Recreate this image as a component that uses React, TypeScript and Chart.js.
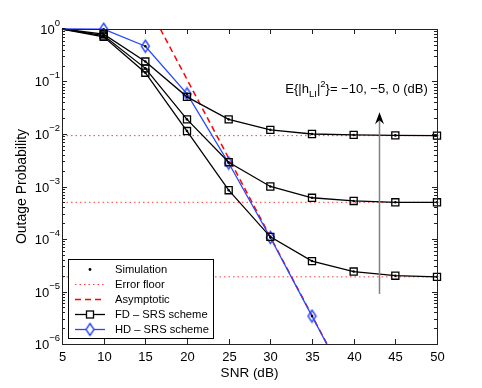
import React, { useEffect, useRef } from "react";
import { Chart, registerables } from "chart.js";
Chart.register(...registerables);

// ---- data ----
const snr = [5, 10, 15, 20, 25, 30, 35, 40, 45, 50];
const fd0dB = [1, 0.8, 0.24, 0.051, 0.019, 0.012, 0.01, 0.0096, 0.0094, 0.0093];
const fdm5dB = [1, 0.75, 0.178, 0.019, 0.0029, 0.001, 0.00061, 0.00053, 0.0005, 0.0005];
const fdm10dB = [1, 0.71, 0.147, 0.0114, 0.00085, 0.00011, 0.000038, 0.000024, 0.00002, 0.000019];
const hdSnr = [5, 10, 15, 20, 25, 30, 35, 40];
const hd = [1, 0.99, 0.47, 0.058, 0.0028, 0.000107, 0.0000034, 1.07e-7];
const simSnrFd = [10, 15, 20, 25, 30, 35, 40, 45, 50];
const simSnrHd = [10, 15, 20, 25, 30, 35];
const errorFloors = [0.0093, 0.0005, 0.000019];
const asymSnr = [16.8, 40];
const asymVals = [1, 1.1e-7];
const xTicks = [5, 10, 15, 20, 25, 30, 35, 40, 45, 50];
const yTickExps = [0, -1, -2, -3, -4, -5, -6];
const arrowX = 43;
const arrowFrom = 9e-6;
const arrowTo = 0.026;
const annoX = 31.8;
const annoY = 0.06;

const FONT = '"Liberation Sans", Arial, Helvetica, sans-serif';
const BLUE = "rgb(40,70,255)";
const FLOOR = "rgba(255,40,40,0.9)";

const sup = (s: string) => s.replace(/-/g, "\u2212");

function makeDiamond(): HTMLCanvasElement {
  const c = document.createElement("canvas");
  c.width = 11;
  c.height = 15;
  const g = c.getContext("2d")!;
  g.strokeStyle = BLUE;
  g.lineWidth = 1.4;
  g.beginPath();
  g.moveTo(5.5, 1.5);
  g.lineTo(9.5, 7.5);
  g.lineTo(5.5, 13.5);
  g.lineTo(1.5, 7.5);
  g.closePath();
  g.stroke();
  return c;
}

const pts = (xs: number[], ys: number[]) => xs.map((x, i) => ({ x, y: ys[i] }));
const pick = (xs: number[], ys: number[], keep: number[]) =>
  xs.map((x, i) => ({ x, y: ys[i] })).filter((p) => keep.includes(p.x));

export default function App() {
  const ref = useRef<HTMLCanvasElement>(null);
  useEffect(() => {
    document.body.style.margin = "0";
    const canvas = ref.current!;
    const diamond = makeDiamond();

    const decorPlugin = {
      id: "decor",
      afterDraw(chart: any) {
        const ctx = chart.ctx as CanvasRenderingContext2D;
        const xs = chart.scales.x;
        const ys = chart.scales.y;
        const { left, right, top, bottom } = chart.chartArea;
        ctx.save();
        // box
        ctx.strokeStyle = "#222";
        ctx.lineWidth = 1;
        ctx.strokeRect(Math.round(left) + 0.5, Math.round(top) + 0.5, Math.round(right - left), Math.round(bottom - top));
        // x ticks
        ctx.fillStyle = "#000";
        ctx.font = `13px ${FONT}`;
        ctx.textAlign = "center";
        ctx.textBaseline = "middle";
        for (const v of xTicks) {
          const px = Math.round(xs.getPixelForValue(v)) + 0.5;
          ctx.beginPath();
          ctx.moveTo(px, bottom);
          ctx.lineTo(px, bottom - 5);
          ctx.moveTo(px, top);
          ctx.lineTo(px, top + 5);
          ctx.stroke();
          ctx.fillText(String(v), px, bottom + 13);
        }
        // y ticks
        for (const e of yTickExps) {
          const py = Math.round(ys.getPixelForValue(Math.pow(10, e))) + 0.5;
          ctx.beginPath();
          ctx.moveTo(left, py);
          ctx.lineTo(left + 5, py);
          ctx.moveTo(right, py);
          ctx.lineTo(right - 5, py);
          ctx.stroke();
          if (e > yTickExps[yTickExps.length - 1]) {
            for (let k = 2; k <= 9; k++) {
              const pm = Math.round(ys.getPixelForValue(k * Math.pow(10, e - 1))) + 0.5;
              ctx.beginPath();
              ctx.moveTo(left, pm);
              ctx.lineTo(left + 3, pm);
              ctx.moveTo(right, pm);
              ctx.lineTo(right - 3, pm);
              ctx.stroke();
            }
          }
          const s = sup(String(e));
          ctx.font = `9.5px ${FONT}`;
          const sw = ctx.measureText(s).width;
          ctx.textAlign = "left";
          ctx.textBaseline = "middle";
          const supX = left - 2 - sw;
          ctx.fillText(s, supX, py - 6);
          ctx.font = `13px ${FONT}`;
          ctx.textAlign = "right";
          ctx.fillText("10", supX, py + 1);
        }
        // axis titles
        ctx.font = `13.5px ${FONT}`;
        ctx.textAlign = "center";
        ctx.textBaseline = "middle";
        ctx.fillText("SNR (dB)", (left + right) / 2, bottom + 29);
        ctx.save();
        ctx.font = `14px ${FONT}`;
        ctx.translate(22, (top + bottom) / 2);
        ctx.rotate(-Math.PI / 2);
        ctx.fillText("Outage Probability", 0, 0);
        ctx.restore();

        // arrow
        const ax = Math.round(xs.getPixelForValue(arrowX)) + 0.5;
        const ay0 = ys.getPixelForValue(arrowFrom);
        const ay1 = ys.getPixelForValue(arrowTo);
        ctx.strokeStyle = "#808080";
        ctx.lineWidth = 1.5;
        ctx.beginPath();
        ctx.moveTo(ax, ay0);
        ctx.lineTo(ax, ay1 + 6);
        ctx.stroke();
        ctx.fillStyle = "#000";
        ctx.beginPath();
        ctx.moveTo(ax, ay1);
        ctx.lineTo(ax + 4.5, ay1 + 12);
        ctx.lineTo(ax, ay1 + 8);
        ctx.lineTo(ax - 4.5, ay1 + 12);
        ctx.closePath();
        ctx.fill();

        // annotation text
        let tx = xs.getPixelForValue(annoX);
        const ty = ys.getPixelForValue(annoY);
        ctx.textAlign = "left";
        ctx.textBaseline = "alphabetic";
        const seg = (t: string, size: number, dy: number) => {
          ctx.font = `${size}px ${FONT}`;
          ctx.fillText(t, tx, ty + dy);
          tx += ctx.measureText(t).width;
        };
        seg("E{|h", 13, 0);
        seg("LI", 9.5, 4);
        seg("|", 13, 0);
        seg("2", 9.5, -6);
        seg("}= \u221210, \u22125, 0 (dB)", 13, 0);

        // legend
        const lx = left + 6;
        const lw = 145;
        const lh = 79;
        const lyb = bottom - 6;
        const ly = lyb - lh;
        ctx.fillStyle = "#fff";
        ctx.fillRect(lx, ly, lw, lh);
        ctx.strokeStyle = "#000";
        ctx.lineWidth = 1;
        ctx.strokeRect(Math.round(lx) + 0.5, Math.round(ly) + 0.5, lw, lh);
        const items = ["Simulation", "Error floor", "Asymptotic", "FD \u2013 SRS scheme", "HD \u2013 SRS scheme"];
        const sx0 = lx + 7;
        const sx1 = lx + 37;
        const sxm = (sx0 + sx1) / 2;
        items.forEach((label, i) => {
          const cy = Math.round(ly + 10 + 15 * i) + 0.5;
          ctx.setLineDash([]);
          if (i === 0) {
            ctx.fillStyle = "#000";
            ctx.beginPath();
            ctx.arc(sxm, cy, 1.4, 0, Math.PI * 2);
            ctx.fill();
          } else if (i === 1) {
            ctx.strokeStyle = FLOOR;
            ctx.lineWidth = 1;
            ctx.setLineDash([1.5, 3]);
            ctx.beginPath();
            ctx.moveTo(sx0, cy);
            ctx.lineTo(sx1, cy);
            ctx.stroke();
          } else if (i === 2) {
            ctx.strokeStyle = "#ff0000";
            ctx.lineWidth = 1.5;
            ctx.setLineDash([6, 4]);
            ctx.beginPath();
            ctx.moveTo(sx0, cy);
            ctx.lineTo(sx1, cy);
            ctx.stroke();
          } else if (i === 3) {
            ctx.strokeStyle = "#000";
            ctx.lineWidth = 1.3;
            ctx.beginPath();
            ctx.moveTo(sx0, cy);
            ctx.lineTo(sx1, cy);
            ctx.stroke();
            ctx.fillStyle = "#fff";
            ctx.fillRect(sxm - 3.5, cy - 3.5, 7, 7);
            ctx.strokeRect(sxm - 3.5, cy - 3.5, 7, 7);
          } else {
            ctx.strokeStyle = BLUE;
            ctx.lineWidth = 1.3;
            ctx.beginPath();
            ctx.moveTo(sx0, cy);
            ctx.lineTo(sx1, cy);
            ctx.stroke();
            ctx.fillStyle = "#fff";
            ctx.beginPath();
            ctx.moveTo(sxm, cy - 6);
            ctx.lineTo(sxm + 4, cy);
            ctx.lineTo(sxm, cy + 6);
            ctx.lineTo(sxm - 4, cy);
            ctx.closePath();
            ctx.fill();
            ctx.drawImage(diamond, sxm - 5.5, cy - 7.5);
          }
          ctx.setLineDash([]);
          ctx.fillStyle = "#000";
          ctx.font = `11.2px ${FONT}`;
          ctx.textAlign = "left";
          ctx.textBaseline = "middle";
          ctx.fillText(label, lx + 47, cy + 0.5);
        });
        ctx.restore();
      },
    };

    const radiusFd = snr.map((x) => (x === 5 ? 0 : 5));
    const radiusHd = hdSnr.map((x) => (simSnrHd.includes(x) ? 7 : 0));
    const clipBox = { left: 10, top: 10, right: 10, bottom: 0 };
    const fdSet = (data: number[]) => ({
      type: "line" as const,
      data: pts(snr, data),
      borderColor: "#000",
      borderWidth: 1.3,
      pointStyle: "rect" as const,
      pointRadius: radiusFd,
      pointBorderColor: "#000",
      pointBackgroundColor: "rgba(0,0,0,0)",
      pointBorderWidth: 1.3,
      clip: clipBox,
    });
    const simData = [
      ...pick(snr, fd0dB, simSnrFd),
      ...pick(snr, fdm5dB, simSnrFd),
      ...pick(snr, fdm10dB, simSnrFd),
      ...pick(hdSnr, hd, simSnrHd),
    ];

    const chart = new Chart(canvas, {
      type: "line",
      data: {
        datasets: [
          {
            type: "scatter",
            data: simData,
            showLine: false,
            pointRadius: 1.3,
            pointBackgroundColor: "#000",
            pointBorderWidth: 0,
            clip: clipBox,
          } as any,
          fdSet(fd0dB),
          fdSet(fdm5dB),
          fdSet(fdm10dB),
          {
            type: "line",
            data: pts(hdSnr, hd),
            borderColor: BLUE,
            borderWidth: 1.3,
            pointStyle: diamond,
            pointRadius: radiusHd,
            clip: clipBox,
          } as any,
          {
            type: "line",
            data: pts(asymSnr, asymVals),
            borderColor: "#ff0000",
            borderWidth: 1.5,
            borderDash: [6, 4],
            pointRadius: 0,
          },
          ...errorFloors.map((f) => ({
            type: "line" as const,
            data: [
              { x: snr[0], y: f },
              { x: snr[snr.length - 1], y: f },
            ],
            borderColor: FLOOR,
            borderWidth: 1,
            borderDash: [1.5, 3],
            pointRadius: 0,
          })),
        ],
      },
      options: {
        responsive: false,
        animation: false,
        devicePixelRatio: 1,
        layout: { padding: { left: 62, right: 45, top: 29, bottom: 44 } },
        plugins: { legend: { display: false }, tooltip: { enabled: false } },
        elements: { line: { tension: 0 } },
        scales: {
          x: { type: "linear", min: 5, max: 50, display: false },
          y: { type: "logarithmic", min: 1e-6, max: 1, display: false },
        },
      },
      plugins: [decorPlugin],
    });
    return () => chart.destroy();
  }, []);
  return (
    <div style={{ width: 482, height: 388, background: "#fff" }}>
      <canvas ref={ref} width={482} height={388} style={{ display: "block" }} />
    </div>
  );
}
